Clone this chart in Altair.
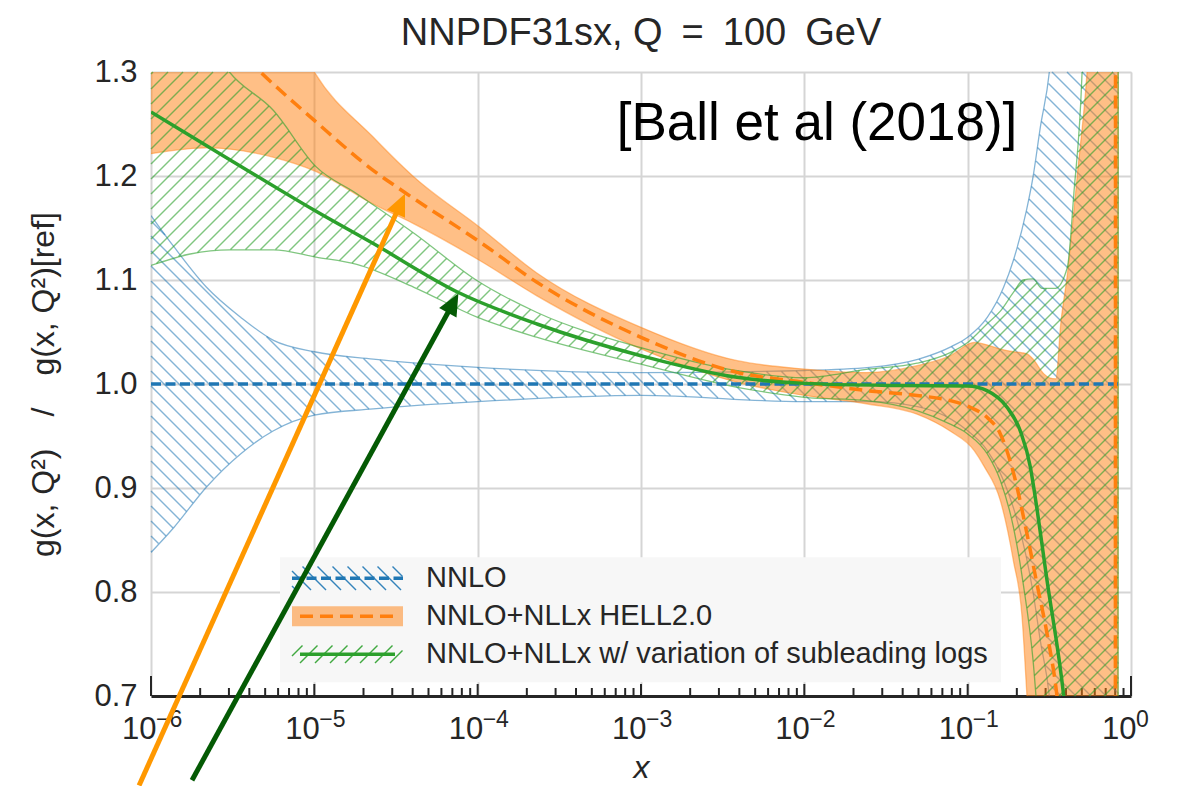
import math
import numpy as np
import pandas as pd
import altair as alt

alt.data_transformers.disable_max_rows()

# ---------------- values (x stored as log10 x) ----------------
NNLO_LOGX = [-6.0, -5.86, -5.66, -5.45, -5.25, -5.0, -4.64, -4.0, -3.0, -2.0,
             -1.6, -1.3, -1.1, -1.0, -0.88, -0.78, -0.72, -0.64, -0.6, -0.555,
             -0.5, -0.45, -0.3, -0.076]
NNLO_HI = [1.162, 1.132, 1.093, 1.064, 1.042, 1.031, 1.024, 1.016, 1.011, 1.013,
           1.016, 1.024, 1.036, 1.045, 1.064, 1.093, 1.119, 1.167, 1.199, 1.247,
           1.300, 1.400, 2.000, 3.000]
NNLO_LO = [0.838, 0.862, 0.901, 0.933, 0.955, 0.970, 0.976, 0.983, 0.989, 0.983,
           0.983, 0.978, 0.966, 0.955, 0.936, 0.907, 0.881, 0.833, 0.800, 0.753,
           0.700, 0.600, 0.200, 0.000]
NNLO_C_LOGX = [-6.0, -0.076]
NNLO_C = [1.0, 1.0]

HELL_LOGX = [-6.0, -5.66, -5.25, -5.0, -4.64, -4.39, -3.99, -3.64, -3.0, -2.41,
             -2.0, -1.62, -1.31, -1.11, -0.96, -0.9, -0.8, -0.72, -0.667, -0.637,
             -0.6, -0.535, -0.5, -0.46, -0.43, -0.39, -0.33, -0.27, -0.2, -0.08,
             -0.076]
HELL_HI = [1.62, 1.50, 1.38, 1.30, 1.2375, 1.199, 1.151, 1.107, 1.0545, 1.0224,
           1.0144, 1.011, 1.0176, 1.027, 1.040, 1.0384, 1.0336, 1.031, 1.030, 1.029,
           1.024, 1.010, 1.006, 1.005, 1.058, 1.105, 1.199, 1.298, 1.50, 3.0,
           3.0]
HELL_LO = [1.2215, 1.227, 1.218, 1.205, 1.173, 1.154, 1.119, 1.085, 1.0337, 1.0016,
           0.989, 0.981, 0.971, 0.955, 0.936, 0.921, 0.888, 0.830, 0.776, 0.700,
           0.600, 0.450, 0.400, 0.350, 0.330, 0.310, 0.300, 0.300, 0.300, 0.300,
           3.0]
HELL_C_LOGX = [-6.0, -5.67, -5.33, -5.0, -4.64, -4.435, -3.986, -3.637, -3.0, -2.412,
               -2.0, -1.616, -1.31, -1.106, -0.984, -0.882, -0.8, -0.718, -0.637, -0.576,
               -0.514, -0.453, -0.35, -0.097, -0.093]
HELL_C = [1.41, 1.355, 1.30, 1.2535, 1.2055, 1.183, 1.1365, 1.0978, 1.0449, 1.0112,
          1.0016, 0.9936, 0.989, 0.984, 0.9776, 0.968, 0.952, 0.9136, 0.856, 0.808,
          0.760, 0.700, 0.500, 0.300, 3.0]

VAR_LOGX = [-6.0, -5.76, -5.52, -5.25, -4.99, -4.74, -4.39, -4.0, -3.64, -3.0,
            -2.41, -2.0, -1.62, -1.31, -1.11, -1.0, -0.88, -0.8, -0.72, -0.66,
            -0.6, -0.545, -0.463, -0.39, -0.35, -0.3, -0.25, -0.08, -0.076]
VAR_HI = [1.42, 1.36, 1.30, 1.263, 1.209, 1.183, 1.145, 1.099, 1.069, 1.035,
          1.0128, 1.006, 1.014, 1.020, 1.030, 1.040, 1.058, 1.070, 1.088, 1.100,
          1.101, 1.092, 1.092, 1.112, 1.183, 1.298, 1.60, 3.0, 3.0]
VAR_LO = [1.114, 1.125, 1.129, 1.129, 1.122, 1.115, 1.093, 1.064, 1.045, 1.019,
          0.9968, 0.9872, 0.984, 0.9744, 0.9616, 0.952, 0.9328, 0.9072, 0.8624, 0.808,
          0.735, 0.620, 0.450, 0.400, 0.370, 0.350, 0.330, 0.300, 3.0]
VAR_C_LOGX = [-6.0, -5.5, -5.0, -4.639, -4.118, -3.637, -3.0, -2.412, -2.0, -1.412,
              -1.0, -0.882, -0.759, -0.678, -0.616, -0.596, -0.514, -0.412, -0.3, -0.1]
VAR_C = [1.2615, 1.214, 1.167, 1.135, 1.088, 1.0577, 1.0272, 1.0064, 1.0006, 0.9985,
         0.998, 0.9936, 0.9776, 0.955, 0.920, 0.901, 0.811, 0.700, 0.500, 0.300]

ARROW_COLORS = ["#ff9800", "#045a04"]
ARROW_TAIL_LOGX = [-6.073, -5.749]
ARROW_TAIL_Y = [0.614, 0.619]
ARROW_TIP_LOGX = [-4.445, -4.118]
ARROW_TIP_Y = [1.183, 1.087]

LEGEND_LABELS = ["NNLO", "NNLO+NLLx HELL2.0",
                 "NNLO+NLLx w/ variation of subleading logs"]
ANNOTATION = "[Ball et al (2018)]"
EN = "\u2002"   # en space: wider gaps like the math spacing of the original
TITLE = "NNPDF31sx, Q" + EN + "=" + EN + "100" + EN + "GeV"
Y_TITLE = "g(x, Q²)" + EN + EN + "/" + EN + EN + "g(x, Q²)[ref]"
X_TITLE = "x"
X_DECADES = [-6, -5, -4, -3, -2, -1, 0]
X_EXPONENTS = ["\u22126", "\u22125", "\u22124", "\u22123", "\u22122", "\u22121", "0"]
MINOR_MULT = [2, 3, 4, 5, 6, 7, 8, 9]
Y_TICKS = [0.7, 0.8, 0.9, 1.0, 1.1, 1.2, 1.3]

# ---------------- layout / styles ----------------
W, H = 980, 624
PAD = {"left": 143, "top": 64, "right": 28, "bottom": 90}
XMIN, XMAX = -6.0, 0.0
YMIN, YMAX = 0.7, 1.3
FONT = "Liberation Sans"
TXT = "#262626"
BLUE, ORANGE, GREEN = "#1f77b4", "#ff7f0e", "#2ca02c"
GRID = "#d5d5d5"


def px_of(lx):
    return (np.asarray(lx, float) - XMIN) / (XMAX - XMIN) * W


def py_of(y):
    return (YMAX - np.asarray(y, float)) / (YMAX - YMIN) * H


def lx_of(px):
    return XMIN + np.asarray(px, float) / W * (XMAX - XMIN)


def y_of(py):
    return YMAX - np.asarray(py, float) / H * (YMAX - YMIN)


# d3 curveMonotoneX, evaluated so hatch lines follow the drawn band edges
def mono_tangents(xs, ys):
    xs = np.asarray(xs, float)
    ys = np.asarray(ys, float)
    n = len(xs)
    t = np.zeros(n)
    if n == 2:
        t[:] = (ys[1] - ys[0]) / (xs[1] - xs[0])
        return t
    sg = lambda v: -1.0 if v < 0 else 1.0
    for i in range(1, n - 1):
        h0 = xs[i] - xs[i - 1]
        h1 = xs[i + 1] - xs[i]
        s0 = (ys[i] - ys[i - 1]) / h0
        s1 = (ys[i + 1] - ys[i]) / h1
        p = (s0 * h1 + s1 * h0) / (h0 + h1)
        t[i] = (sg(s0) + sg(s1)) * min(abs(s0), abs(s1), 0.5 * abs(p))
    t[0] = (3 * (ys[1] - ys[0]) / (xs[1] - xs[0]) - t[1]) / 2
    t[-1] = (3 * (ys[-1] - ys[-2]) / (xs[-1] - xs[-2]) - t[-2]) / 2
    return t


def mono_eval(xs, ys, q):
    t = mono_tangents(xs, ys)
    xs = np.asarray(xs, float)
    ys = np.asarray(ys, float)
    i = np.clip(np.searchsorted(xs, q, side="right") - 1, 0, len(xs) - 2)
    x0, x1, y0, y1 = xs[i], xs[i + 1], ys[i], ys[i + 1]
    d = (x1 - x0) / 3.0
    c1 = y0 + d * t[i]
    c2 = y1 - d * t[i + 1]
    s = (q - x0) / (x1 - x0)
    u = 1 - s
    return u ** 3 * y0 + 3 * u * u * s * c1 + 3 * u * s * s * c2 + s ** 3 * y1


def hatch_rows(pxs, top, bot, direction, spacing, phase):
    rows = []
    if direction == "\\":
        cs = np.arange(-W - 2 * spacing, H + 2 * spacing, spacing) + phase
        sgn = 1.0
    else:
        cs = np.arange(-2 * spacing, W + H + 2 * spacing, spacing) + phase
        sgn = -1.0
    for c in cs:
        py = sgn * pxs + c
        inside = (py >= top) & (py <= bot) & (top < bot)
        if not inside.any():
            continue
        m = np.concatenate([[0], inside.astype(np.int8), [0]])
        d = np.diff(m)
        starts = np.where(d == 1)[0]
        ends = np.where(d == -1)[0] - 1
        for s, e in zip(starts, ends):
            if e <= s:
                continue
            rows.append({"x": float(10 ** lx_of(pxs[s])), "y": float(y_of(py[s])),
                         "x2": float(10 ** lx_of(pxs[e])), "y2": float(y_of(py[e]))})
    return rows


def band_hatch(lx, lo, hi, direction, spacing=15.0, phase=0.0):
    p0 = max(float(px_of(lx[0])), 0.0)
    p1 = min(float(px_of(lx[-1])), float(W))
    pxs = np.arange(p0, p1, 0.5)
    q = lx_of(pxs)
    a = py_of(mono_eval(lx, hi, q))
    b = py_of(mono_eval(lx, lo, q))
    top = np.maximum(np.minimum(a, b), 0.0)
    bot = np.minimum(np.maximum(a, b), float(H))
    return hatch_rows(pxs, top, bot, direction, spacing, phase)


def rect_hatch(px0, px1, pytop, pybot, direction, spacing=15.0, phase=0.0):
    pxs = np.arange(px0, px1, 0.5)
    top = np.full_like(pxs, pytop)
    bot = np.full_like(pxs, pybot)
    return hatch_rows(pxs, top, bot, direction, spacing, phase)


def band_df(lx, lo, hi):
    return pd.DataFrame({"x": [10 ** v for v in lx], "lo": lo, "hi": hi})


def edges_df(lx, lo, hi):
    rows = []
    for name, arr in (("lo", lo), ("hi", hi)):
        for v, yv in zip(lx, arr):
            rows.append({"x": 10 ** v, "y": yv, "edge": name})
    return pd.DataFrame(rows)


def curve_df(lx, ys):
    return pd.DataFrame({"x": [10 ** v for v in lx], "y": ys})


XS = alt.Scale(type="log", domain=[1e-6, 1.0], nice=False)
YS = alt.Scale(domain=[YMIN, YMAX], nice=False, zero=False)

X_AXIS = alt.Axis(values=[10.0 ** e for e in X_DECADES], labelExpr="'10'",
                  ticks=False, domain=True, domainColor=TXT, domainWidth=3,
                  grid=True, gridColor=GRID, gridWidth=2,
                  labelFont=FONT, labelFontSize=31, labelColor=TXT, labelPadding=18,
                  labelAlign="right", labelOffset=5,
                  labelFlush=False, labelOverlap=False, labelBound=False,
                  title=X_TITLE, titleFont=FONT, titleFontSize=32, titleFontStyle="italic",
                  titleFontWeight="normal", titleColor=TXT, titlePadding=8)
Y_AXIS = alt.Axis(values=Y_TICKS, format=".1f", ticks=False, domain=False,
                  grid=True, gridColor=GRID, gridWidth=2,
                  labelFont=FONT, labelFontSize=31, labelColor=TXT, labelPadding=14,
                  labelFlush=False, labelOverlap=False,
                  title=Y_TITLE, titleFont=FONT, titleFontSize=32, titleFontWeight="normal",
                  titleColor=TXT, titlePadding=33)


def ex(f="x"):
    return alt.X(f"{f}:Q", scale=XS, axis=X_AXIS)


def ey(f="y"):
    return alt.Y(f"{f}:Q", scale=YS, axis=Y_AXIS)


# ---- axis ticks (pointing up into the plot) ----
unit = (YMAX - YMIN) / H
tick_rows = []
for e in X_DECADES[:-1]:
    for m in MINOR_MULT:
        tick_rows.append({"x": m * 10.0 ** e, "y": YMIN, "y2": YMIN + 8 * unit})
for e in X_DECADES:
    ln = 20.0 if e in (X_DECADES[0], X_DECADES[-1]) else 12.0
    tick_rows.append({"x": 10.0 ** e, "y": YMIN, "y2": YMIN + ln * unit})
ticks = alt.Chart(pd.DataFrame(tick_rows)).mark_rule(color=TXT, strokeWidth=2).encode(
    x=ex(), y=ey(), y2="y2:Q")

# exponents of the x tick labels (raised, smaller), placed after the "10"
exp_y = float(y_of(727.0 - 71.7))
exp_df = pd.DataFrame({"x": [10.0 ** e for e in X_DECADES], "y": exp_y, "t": X_EXPONENTS})
exponents = alt.Chart(exp_df).mark_text(
    align="left", baseline="alphabetic", dx=5, font=FONT, fontSize=23, color=TXT).encode(
    x=ex(), y=ey(), text="t:N")


def hatch_layer(rows, color, opacity):
    return alt.Chart(pd.DataFrame(rows)).mark_rule(
        color=color, strokeWidth=1.4, opacity=opacity).encode(
        x=ex(), y=ey(), x2="x2:Q", y2="y2:Q")


def edge_layer(lx, lo, hi, color, opacity):
    return alt.Chart(edges_df(lx, lo, hi)).mark_line(
        interpolate="monotone", clip=True, color=color, strokeWidth=1.3,
        opacity=opacity).encode(x=ex(), y=ey(), detail="edge:N")


blue_hatch = hatch_layer(band_hatch(NNLO_LOGX, NNLO_LO, NNLO_HI, "\\", 15.0, 4.0), BLUE, 0.55)
blue_edges = edge_layer(NNLO_LOGX, NNLO_LO, NNLO_HI, BLUE, 0.55)

orange_fill = alt.Chart(band_df(HELL_LOGX, HELL_LO, HELL_HI)).mark_area(
    interpolate="monotone", clip=True, color=ORANGE, opacity=0.5).encode(
    x=ex(), y=ey("hi"), y2="lo:Q")
orange_edges = edge_layer(HELL_LOGX, HELL_LO, HELL_HI, ORANGE, 0.45)

green_hatch = hatch_layer(band_hatch(VAR_LOGX, VAR_LO, VAR_HI, "/", 15.0, 2.0), GREEN, 0.6)
green_edges = edge_layer(VAR_LOGX, VAR_LO, VAR_HI, GREEN, 0.6)

blue_line = alt.Chart(curve_df(NNLO_C_LOGX, NNLO_C)).mark_line(
    clip=True, color=BLUE, strokeWidth=3.5, strokeDash=[10, 4.5]).encode(x=ex(), y=ey())
orange_line = alt.Chart(curve_df(HELL_C_LOGX, HELL_C)).mark_line(
    interpolate="monotone", clip=True, color=ORANGE, strokeWidth=3.5,
    strokeDash=[13, 7]).encode(x=ex(), y=ey())
green_line = alt.Chart(curve_df(VAR_C_LOGX, VAR_C)).mark_line(
    interpolate="monotone", clip=True, color=GREEN, strokeWidth=3.5).encode(x=ex(), y=ey())

# ---- legend (positions in plot pixels, converted to data through the scales) ----
LEG_BOX = (129.0, 850.0, 485.3, 610.3)       # left, right, top, bottom
LEG_ROWS = [506.3, 544.3, 582.3]
SYM_X = (141.0, 252.0)
TXT_X = 275.0


def P(px, py):
    return float(10 ** lx_of(px)), float(y_of(py))


bx0, by0 = P(LEG_BOX[0], LEG_BOX[2])
bx1, by1 = P(LEG_BOX[1], LEG_BOX[3])
legend_box = alt.Chart(pd.DataFrame([{"x": bx0, "x2": bx1, "y": by0, "y2": by1}])).mark_rect(
    color="#f7f7f7").encode(x=ex(), x2="x2:Q", y=ey(), y2="y2:Q")

ox0, oy0 = P(SYM_X[0], LEG_ROWS[1] - 10)
ox1, oy1 = P(SYM_X[1], LEG_ROWS[1] + 10)
leg_orange = alt.Chart(pd.DataFrame([{"x": ox0, "x2": ox1, "y": oy0, "y2": oy1}])).mark_rect(
    color=ORANGE, opacity=0.5).encode(x=ex(), x2="x2:Q", y=ey(), y2="y2:Q")

leg_blue_h = hatch_layer(rect_hatch(SYM_X[0], SYM_X[1], LEG_ROWS[0] - 12, LEG_ROWS[0] + 12,
                                    "\\", 15.0, 3.0), BLUE, 0.9)
leg_green_h = hatch_layer(rect_hatch(SYM_X[0], SYM_X[1], LEG_ROWS[2] - 9, LEG_ROWS[2] + 9,
                                     "/", 15.0, 5.0), GREEN, 0.9)


def seg(px0, px1, py):
    a = P(px0, py)
    b = P(px1, py)
    return pd.DataFrame([{"x": a[0], "y": a[1]}, {"x": b[0], "y": b[1]}])


leg_blue_l = alt.Chart(seg(SYM_X[0], SYM_X[1], LEG_ROWS[0])).mark_line(
    color=BLUE, strokeWidth=3.5, strokeDash=[10, 4.5]).encode(x=ex(), y=ey())
leg_orange_l = alt.Chart(seg(SYM_X[0] + 8, SYM_X[1] - 4, LEG_ROWS[1])).mark_line(
    color=ORANGE, strokeWidth=3.5, strokeDash=[13, 7]).encode(x=ex(), y=ey())
leg_green_l = alt.Chart(seg(SYM_X[0] + 8, SYM_X[1] - 8, LEG_ROWS[2])).mark_line(
    color=GREEN, strokeWidth=3.5).encode(x=ex(), y=ey())

leg_text_df = pd.DataFrame([{"x": P(TXT_X, r)[0], "y": P(TXT_X, r)[1], "t": lab}
                            for lab, r in zip(LEGEND_LABELS, LEG_ROWS)])
leg_text = alt.Chart(leg_text_df).mark_text(
    align="left", baseline="middle", font=FONT, fontSize=29, color=TXT).encode(
    x=ex(), y=ey(), text="t:N")

ax, ay = P(666.0, 68.3)
annot = alt.Chart(pd.DataFrame([{"x": ax, "y": ay, "t": ANNOTATION}])).mark_text(
    align="center", baseline="alphabetic", font=FONT, fontSize=53, color="black").encode(
    x=ex(), y=ey(), text="t:N")

# ---- arrows ----
shaft_rows, head_rows = [], []
for col, tlx, ty, hlx, hy in zip(ARROW_COLORS, ARROW_TAIL_LOGX, ARROW_TAIL_Y,
                                 ARROW_TIP_LOGX, ARROW_TIP_Y):
    x0p, y0p = float(px_of(tlx)), float(py_of(ty))
    x1p, y1p = float(px_of(hlx)), float(py_of(hy))
    L = math.hypot(x1p - x0p, y1p - y0p)
    ux, uy = (x1p - x0p) / L, (y1p - y0p) / L
    ex_, ey_ = x1p - 14 * ux, y1p - 14 * uy
    shaft_rows.append({"x": float(10 ** tlx), "y": ty,
                       "x2": float(10 ** lx_of(ex_)), "y2": float(y_of(ey_)), "c": col})
    ang = math.degrees(math.atan2(x1p - x0p, -(y1p - y0p))) % 360
    head_rows.append({"x": float(10 ** hlx), "y": hy, "a": ang, "c": col})

shafts = alt.Chart(pd.DataFrame(shaft_rows)).mark_rule(strokeWidth=5).encode(
    x=ex(), y=ey(), x2="x2:Q", y2="y2:Q", color=alt.Color("c:N", scale=None))
heads = alt.Chart(pd.DataFrame(head_rows)).mark_point(
    shape="M0,0L-0.45,1L0.45,1Z", filled=True, size=1936, opacity=1, strokeWidth=0).encode(
    x=ex(), y=ey(), angle=alt.Angle("a:Q", scale=None), color=alt.Color("c:N", scale=None))

chart = alt.layer(
    ticks, exponents, blue_hatch, blue_edges, orange_fill, orange_edges, green_hatch,
    green_edges, blue_line, orange_line, green_line,
    legend_box, leg_orange, leg_blue_h, leg_green_h, leg_blue_l, leg_orange_l, leg_green_l,
    leg_text, annot, shafts, heads
).properties(
    width=W, height=H, padding=PAD, autosize=alt.AutoSizeParams(type="none"),
    title=alt.TitleParams(TITLE, font=FONT, fontSize=38, fontWeight="normal", color=TXT,
                          anchor="middle", baseline="alphabetic", offset=-27, frame="group")
).configure_view(stroke=None).configure(background="white")

chart.save("out.html", embed_options={"renderer": "svg", "actions": False})
